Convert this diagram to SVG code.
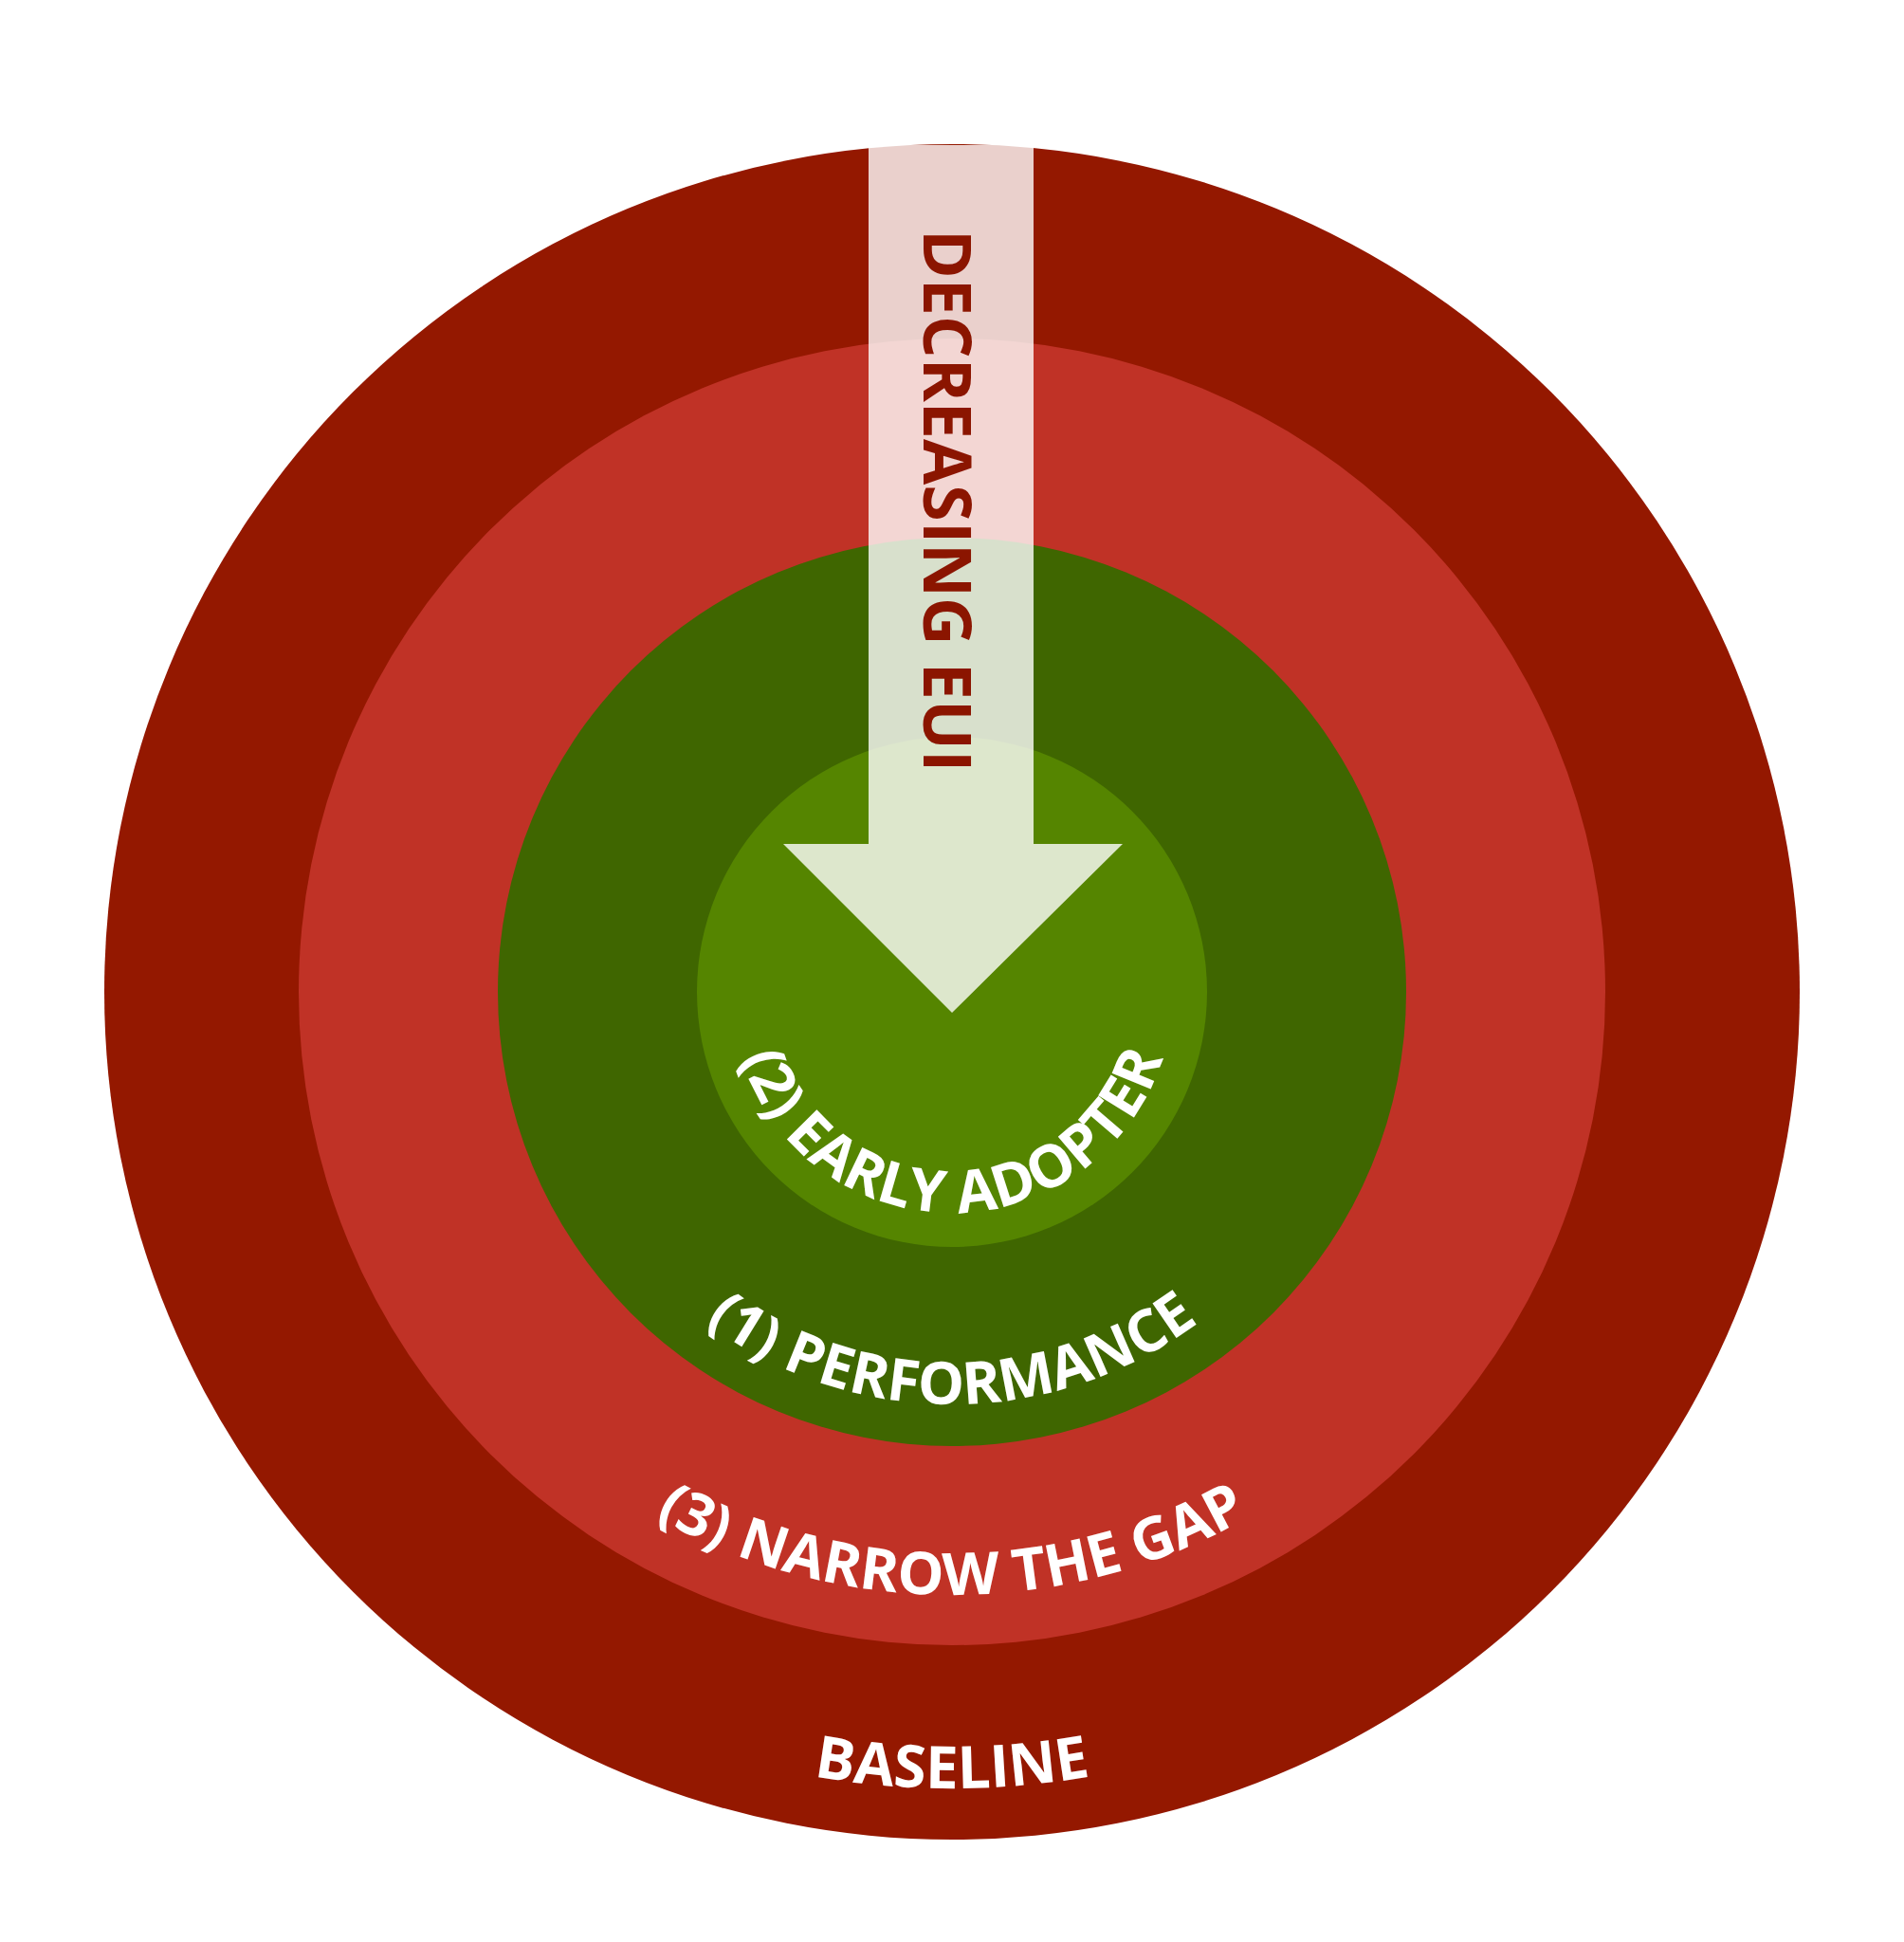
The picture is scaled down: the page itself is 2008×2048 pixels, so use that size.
<svg xmlns="http://www.w3.org/2000/svg" xmlns:xlink="http://www.w3.org/1999/xlink" width="2008" height="2048" viewBox="0 0 2008 2048">
<style>
.lbl{font-family:"Open Sans","Liberation Sans",sans-serif;font-weight:700;fill:#ffffff;font-size:62px}
</style>
<defs>
<path id="p2" d="M771,1046 A233,233 0 0 0 1237,1046"/>
<path id="p1" d="M569,1046 A435,435 0 0 0 1439,1046"/>
<path id="p3" d="M368,1046 A636,636 0 0 0 1640,1046"/>
<path id="p0" d="M164,1046 A840,840 0 0 0 1844,1046"/>
</defs>
<rect width="2008" height="2048" fill="#ffffff"/>
<g id="baseline"><circle cx="1004" cy="1046" r="894" fill="#941800"/></g>
<g id="narrow"><circle cx="1004" cy="1046" r="689" fill="#c03226"/></g>
<g id="performance"><circle cx="1004" cy="1046" r="479" fill="#3f6600"/></g>
<g id="early"><circle cx="1004" cy="1046" r="269" fill="#558500"/></g>
<g id="arrow">
<polygon points="916,153 1090,153 1090,890 1184,890 1004,1068 826,890 916,890" fill="#ffffff" fill-opacity="0.8"/>
<text x="0" y="0" transform="translate(1001,242) rotate(90)" font-family="Open Sans, Liberation Sans, sans-serif" font-weight="700" font-size="70" fill="#8b1500" dominant-baseline="central">DECREASING EUI</text>
</g>
<g id="labels">
<text class="lbl"><textPath xlink:href="#p2" href="#p2" startOffset="50%" text-anchor="middle">(2) EARLY ADOPTER</textPath></text>
<text class="lbl"><textPath xlink:href="#p1" href="#p1" startOffset="50%" text-anchor="middle">(1) PERFORMANCE</textPath></text>
<text class="lbl"><textPath xlink:href="#p3" href="#p3" startOffset="50%" text-anchor="middle">(3) NARROW THE GAP</textPath></text>
<text class="lbl"><textPath xlink:href="#p0" href="#p0" startOffset="50%" text-anchor="middle">BASELINE</textPath></text>
</g>
</svg>
